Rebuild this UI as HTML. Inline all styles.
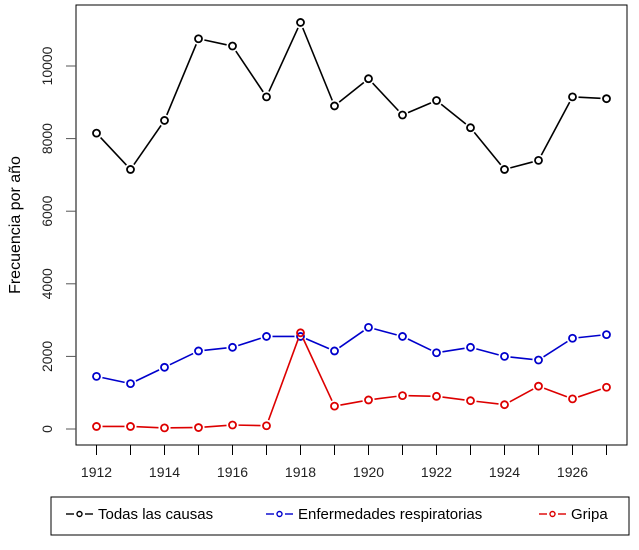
<!DOCTYPE html>
<html><head><meta charset="utf-8"><style>
body{margin:0;background:#fff;}
svg text{font-family:"Liberation Sans",sans-serif;}
</style></head><body>
<svg width="639" height="545" xmlns="http://www.w3.org/2000/svg">
<g id="plot"></g>
</svg>
<script>
const years=[1912,1913,1914,1915,1916,1917,1918,1919,1920,1921,1922,1923,1924,1925,1926,1927];
const todas=[8150,7150,8500,10750,10550,9150,11200,8900,9650,8650,9050,8300,7150,7400,9150,9100];
const resp=[1450,1250,1700,2150,2250,2550,2550,2150,2800,2550,2100,2250,2000,1900,2500,2600];
const gripa=[70,70,30,40,110,90,2650,630,800,920,900,780,670,1180,830,1150];
const yTicks=[0,2000,4000,6000,8000,10000];
const xTicks=[1912,1914,1916,1918,1920,1922,1924,1926];
const NS='http://www.w3.org/2000/svg';
const svg=document.querySelector('svg');
function X(v){return 96.5+(v-1912)*34;}
function Y(v){return 429-v*0.0363;}
function mk(t,a,p){const e=document.createElementNS(NS,t);for(const k in a)e.setAttribute(k,a[k]);(p||svg).appendChild(e);return e;}
const box=mk('rect',{x:76,y:5,width:551,height:440,fill:'none',stroke:'#000','stroke-width':1});


yTicks.forEach(v=>{
 const l=mk('line',{x1:66,x2:76,y1:Y(v),y2:Y(v),stroke:'#555'});
 
 
 const t=mk('text',{x:52,y:Y(v),'font-size':14,'text-anchor':'middle',fill:'#222',transform:`rotate(-90 52 ${Y(v)})`});
 t.textContent=v;
 
 
});
years.forEach(v=>{
 const l=mk('line',{x1:X(v),x2:X(v),y1:445,y2:455,stroke:'#000'});
 
 
});
xTicks.forEach(v=>{
 const t=mk('text',{x:X(v),y:477,'font-size':14,'text-anchor':'middle',fill:'#222'});
 t.textContent=v;
 
 
});
const yt=mk('text',{x:20,y:225,'font-size':16,'text-anchor':'middle',fill:'#000',transform:'rotate(-90 20 225)'});
yt.textContent='Frecuencia por año';


function series(vals,color,name){
 const g=mk('g',{});
 
 
 const gap=6;
 for(let i=0;i<vals.length-1;i++){
  const x1=X(years[i]),y1=Y(vals[i]),x2=X(years[i+1]),y2=Y(vals[i+1]);
  const d=Math.hypot(x2-x1,y2-y1);if(d<2*gap)continue;
  const ux=(x2-x1)/d,uy=(y2-y1)/d;
  const s=mk('line',{x1:x1+ux*gap,y1:y1+uy*gap,x2:x2-ux*gap,y2:y2-uy*gap,stroke:color,'stroke-width':1.6},g);
  
  
 }
 vals.forEach((v,i)=>{
  const c=mk('circle',{cx:X(years[i]),cy:Y(v),r:3.5,fill:'none',stroke:color,'stroke-width':1.8},g);
  
  
 });
}
series(todas,'#000','series-todas');
series(resp,'#0000cc','series-respiratorias');
series(gripa,'#dd0000','series-gripa');
const lg=mk('g',{});


mk('rect',{x:51,y:497,width:578,height:38,fill:'none',stroke:'#000'},lg);
[[66,'#000','Todas las causas'],[266,'#0000cc','Enfermedades respiratorias'],[539,'#dd0000','Gripa']].forEach(([x,c,t])=>{
 const e=mk('g',{},lg);
 
 
 mk('line',{x1:x,x2:x+8,y1:514,y2:514,stroke:c,'stroke-width':1.4},e);
 mk('line',{x1:x+19,x2:x+27,y1:514,y2:514,stroke:c,'stroke-width':1.4},e);
 mk('circle',{cx:x+13.5,cy:514,r:2.5,fill:'none',stroke:c,'stroke-width':1.4},e);
 const tx=mk('text',{x:x+32,y:519,'font-size':15,fill:'#000'},e);
 tx.textContent=t;
});
</script>
</body></html>
